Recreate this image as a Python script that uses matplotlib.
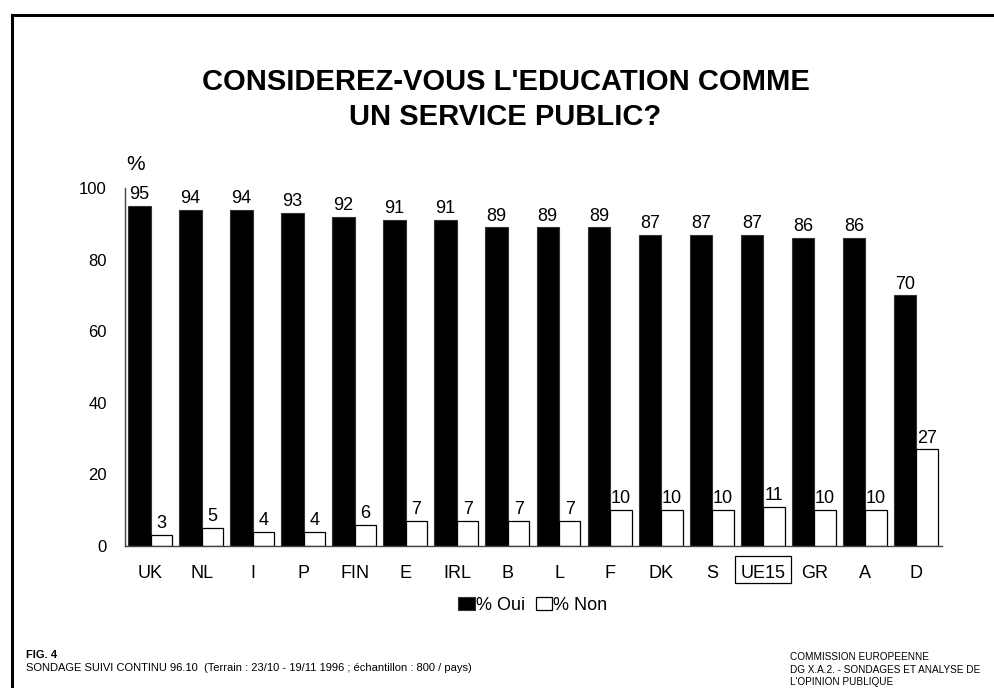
import matplotlib
matplotlib.use("Agg")
import matplotlib.pyplot as plt
from matplotlib.lines import Line2D
from matplotlib.patches import Rectangle
import numpy as np

plt.rcParams["font.family"] = ["Liberation Sans", "DejaVu Sans"]

countries = ["UK", "NL", "I", "P", "FIN", "E", "IRL", "B", "L", "F",
             "DK", "S", "UE15", "GR", "A", "D"]
oui = [95, 94, 94, 93, 92, 91, 91, 89, 89, 89, 87, 87, 87, 86, 86, 70]
non = [3, 5, 4, 4, 6, 7, 7, 7, 7, 10, 10, 10, 11, 10, 10, 27]
yticks = [0, 20, 40, 60, 80, 100]

W, H = 995, 688
fig = plt.figure(figsize=(W / 100, H / 100), dpi=100)
ax = fig.add_axes([0.1256, 0.2064, 0.8211, 0.5203])

x = np.arange(len(countries))
w_oui, w_non = 0.44, 0.42
bars_oui = ax.bar(x, oui, width=-w_oui, align="edge", color="black",
                  edgecolor="#333333", linewidth=0.8, label="% Oui")
bars_non = ax.bar(x, non, width=w_non, align="edge", color="white",
                  edgecolor="black", linewidth=0.9, label="% Non")
ax.bar_label(bars_oui, padding=2, fontsize=13)
ax.bar_label(bars_non, padding=2, fontsize=13)

ax.set_xlim(-0.5, len(countries) - 0.5)
ax.set_ylim(0, 100)
ax.set_yticks(yticks)
ax.set_xticks(x)
ax.set_xticklabels(countries)
ax.tick_params(axis="both", length=0, labelsize=12)
ax.tick_params(axis="x", pad=14, labelsize=13)
ax.tick_params(axis="y", pad=13)
for side in ("top", "right"):
    ax.spines[side].set_visible(False)
for side in ("left", "bottom"):
    ax.spines[side].set_color("#444444")
    ax.spines[side].set_linewidth(1.0)

# box around the EU average label (offsets in pixels)
ue = ax.get_xticklabels()[countries.index("UE15")]
fig.canvas.draw()
bb = ue.get_window_extent()
x0, x1 = bb.x0 - 6, bb.x1 + 5
y0, y1 = bb.y0 - 1, bb.y1 + 9
fig.add_artist(Rectangle((x0 / W, y0 / H), (x1 - x0) / W, (y1 - y0) / H,
                         transform=fig.transFigure, fill=False,
                         edgecolor="black", linewidth=0.9))

ax.text(0.002, 1.04, "%", transform=ax.transAxes, fontsize=15,
        ha="left", va="bottom")

ax.legend(loc="upper center", bbox_to_anchor=(0.499, -0.097), ncol=2,
          frameon=False, fontsize=13, handlelength=0.9, handleheight=0.75,
          handletextpad=0.05, columnspacing=0.6)

fig.text(0.508, 0.855, "CONSIDEREZ-VOUS L'EDUCATION COMME\nUN SERVICE PUBLIC?",
         ha="center", va="center", fontsize=21, fontweight="bold",
         linespacing=1.3)

fig.text(0.026, 0.043, "FIG. 4", fontsize=8, fontweight="bold")
fig.text(0.026, 0.024, "SONDAGE SUIVI CONTINU 96.10  (Terrain : 23/10 - 19/11 1996 ; "
         "échantillon : 800 / pays)", fontsize=8)
fig.text(0.794, 0.052, "COMMISSION EUROPEENNE\nDG X.A.2. - SONDAGES ET ANALYSE DE\n"
         "L'OPINION PUBLIQUE", fontsize=7.2, linespacing=1.3, va="top")

# page frame: top and left edges
fig.add_artist(Line2D([0.012, 1.0], [0.978, 0.978], color="black", linewidth=2.2,
                      transform=fig.transFigure))
fig.add_artist(Line2D([0.012, 0.012], [0.0, 0.978], color="black", linewidth=2.2,
                      transform=fig.transFigure))

fig.savefig("out.png", dpi=100)
